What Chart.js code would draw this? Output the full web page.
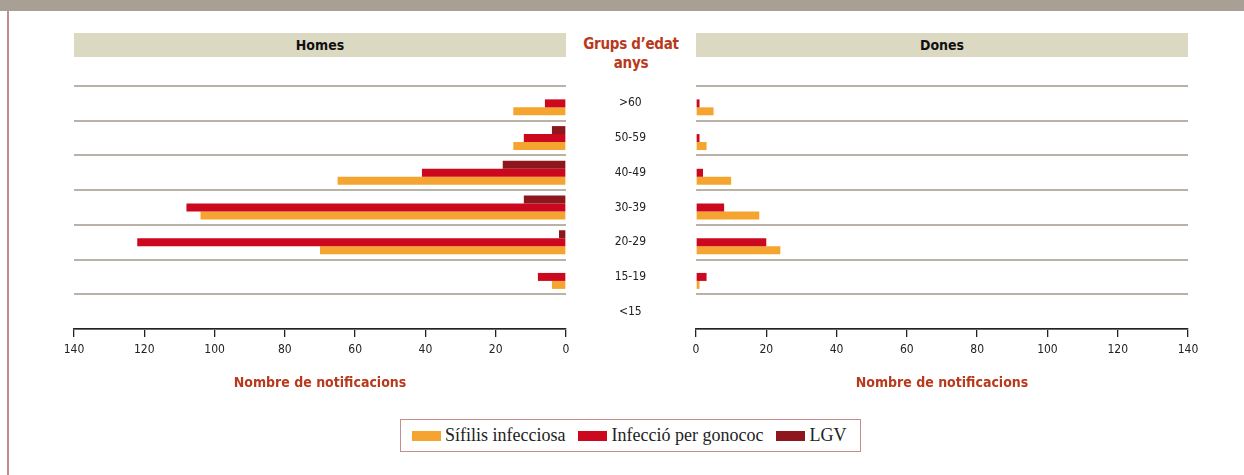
<!DOCTYPE html>
<html>
<head>
<meta charset="utf-8">
<script src="https://cdn.jsdelivr.net/npm/chart.js@4/dist/chart.umd.min.js"></script>
<style>
  body { margin: 0; width: 1244px; height: 475px; background: #fff; position: relative; overflow: hidden; }
  #banner { position: absolute; left: 0; top: 0; width: 1244px; height: 11px; background: #a8a094; }
  #sideLine { position: absolute; left: 7px; top: 11px; width: 2px; height: 464px; background: #c48a8e; }
  .head { position: absolute; top: 33px; height: 24px; background: #dcd9c3; font: bold 14px 'DejaVu Sans Condensed', 'DejaVu Sans', sans-serif; color: #111; text-align: center; line-height: 24px; }
  #groupTitle { position: absolute; left: 566px; top: 35px; width: 130px; text-align: center; font: bold 15px 'DejaVu Sans Condensed', 'DejaVu Sans', sans-serif; color: #b8391b; line-height: 19px; letter-spacing: -0.3px; }
  canvas { position: absolute; }
  #legend { position: absolute; left: 400px; top: 419px; border: 1.5px solid #c78c8c; display: flex; align-items: center; padding-left: 11px; box-sizing: border-box; width: 461px; height: 33px; font: 18px 'Liberation Serif', 'DejaVu Serif', serif; color: #222; }
  .sw { display: inline-block; width: 29px; height: 10px; margin-right: 4px; }
  .item { display: flex; align-items: center; margin-right: 13px; }
</style>
</head>
<body>
<div id="banner"></div>
<div id="sideLine"></div>
<div class="head" id="headHomes" style="left:74px;width:492px;">Homes</div>
<div class="head" id="headDones" style="left:696px;width:492px;">Dones</div>
<div id="groupTitle">Grups d’edat<br>anys</div>
<canvas id="homesChart"></canvas>
<canvas id="donesChart"></canvas>
<div id="legend"></div>
<script>
// data
const ageGroups = [">60", "50-59", "40-49", "30-39", "20-29", "15-19", "<15"];
const homesSifilis = [15, 15, 65, 104, 70, 4, 0];
const homesGonococ = [6, 12, 41, 108, 122, 8, 0];
const homesLGV = [0, 4, 18, 12, 2, 0, 0];
const donesSifilis = [5, 3, 10, 18, 24, 1, 0];
const donesGonococ = [1, 1, 2, 8, 20, 3, 0];
const donesLGV = [0, 0, 0, 0, 0, 0, 0];
const seriesNames = ["Sífilis infecciosa", "Infecció per gonococ", "LGV"];
const seriesColors = ["#f5a52f", "#cc081f", "#8e171d"];
const axisTicks = [0, 20, 40, 60, 80, 100, 120, 140];

const FONT = "'DejaVu Sans Condensed', 'DejaVu Sans', sans-serif";

function makeDatasets(sif, gon, lgv) {
  // LGV on top, then gonococ, then sifilis
  return [
    { label: seriesNames[2], data: lgv, backgroundColor: seriesColors[2] },
    { label: seriesNames[1], data: gon, backgroundColor: seriesColors[1] },
    { label: seriesNames[0], data: sif, backgroundColor: seriesColors[0] },
  ];
}

function xScale(reverse) {
  return {
    type: "linear",
    min: 0,
    max: 140,
    reverse: reverse,
    afterBuildTicks: (s) => { s.ticks = axisTicks.map((v) => ({ value: v })); },
    afterFit: (s) => { s.height = 67; },
    grid: { drawOnChartArea: false, drawTicks: true, tickLength: 8, tickColor: "#222", lineWidth: 1.3 },
    border: { display: true, color: "#222", width: 1.5 },
    ticks: { color: "#222", font: { family: FONT, size: 12 }, padding: 6 },
    title: {
      display: true,
      text: "Nombre de notificacions",
      color: "#b8391b",
      font: { family: FONT, size: 14, weight: "bold" },
      padding: { top: 0, bottom: 4 },
    },
  };
}

const commonOpts = {
  indexAxis: "y",
  responsive: false,
  animation: false,
  categoryPercentage: 0.69,
  barPercentage: 1.0,
  plugins: { legend: { display: false }, tooltip: { enabled: false } },
};

const homesCanvas = document.getElementById("homesChart");
homesCanvas.width = 631; homesCanvas.height = 320;
homesCanvas.style.left = "0px"; homesCanvas.style.top = "76px";

new Chart(homesCanvas, {
  type: "bar",
  data: { labels: ageGroups, datasets: makeDatasets(homesSifilis, homesGonococ, homesLGV) },
  options: {
    ...commonOpts,
    layout: { padding: { left: 74, top: 10, right: 0, bottom: 0 } },
    scales: {
      x: xScale(true),
      y: {
        position: "right",
        afterFit: (s) => { s.width = 65; },
        grid: { color: "#b8b2a7", lineWidth: 2, drawTicks: false, offset: true },
        border: { display: false },
        ticks: { display: false },
      },
    },
  },
});

const donesCanvas = document.getElementById("donesChart");
donesCanvas.width = 678; donesCanvas.height = 320;
donesCanvas.style.left = "566px"; donesCanvas.style.top = "76px";

new Chart(donesCanvas, {
  type: "bar",
  data: { labels: ageGroups, datasets: makeDatasets(donesSifilis, donesGonococ, donesLGV) },
  options: {
    ...commonOpts,
    layout: { padding: { left: 0, top: 10, right: 56, bottom: 0 } },
    scales: {
      x: xScale(false),
      y: {
        position: "left",
        afterFit: (s) => { s.width = 130; },
        // invisible tick marks push the age labels into the centre column
        grid: { color: "#b8b2a7", lineWidth: 2, drawTicks: true, tickLength: 50, tickColor: "rgba(0,0,0,0)", offset: true },
        border: { display: false },
        ticks: { color: "#222", font: { family: FONT, size: 12 }, crossAlign: "center", padding: 0 },
      },
    },
  },
});

// legend
const legend = document.getElementById("legend");
seriesNames.forEach((name, i) => {
  const item = document.createElement("span");
  item.className = "item";
  item.innerHTML = `<span class="sw" style="background:${seriesColors[i]}"></span>${name}`;
  legend.appendChild(item);
});
</script>
</body>
</html>
